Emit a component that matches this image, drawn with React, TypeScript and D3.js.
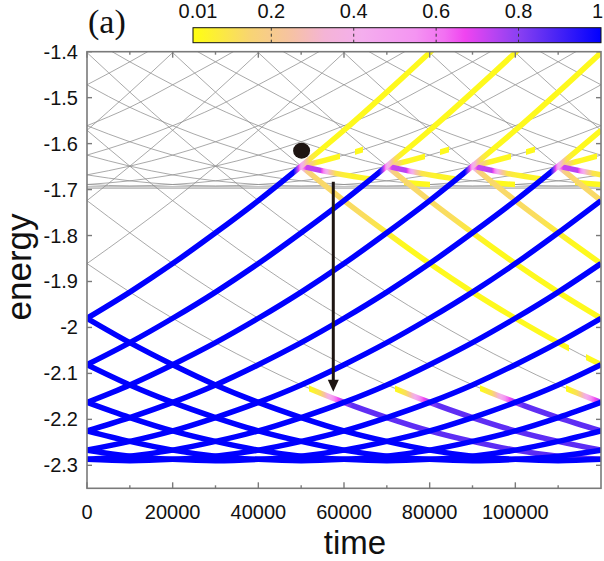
import React from 'react'
import * as d3 from 'd3'

const W = 604
const H = 561

// energy of the lower band at |q| = 0, 0.5, 1, ... (read at the grid crossings, one step per 10000)
const bandA = [-2.29, -2.287, -2.28, -2.267, -2.248, -2.225, -2.196, -2.163, -2.125, -2.081, -2.033,
  -1.98, -1.923, -1.861, -1.794, -1.724, -1.649, -1.571, -1.488, -1.402, -1.313, -1.22]
// energy of the pair band at |K| = 0, 0.5, 1, ...
const bandB = [-1.692, -1.689, -1.681, -1.668, -1.649, -1.625, -1.596, -1.561, -1.521, -1.472, -1.422, -1.368, -1.31]
const flatLevels = [-1.694, -1.697]
const gridTimes = [0, 10000, 20000, 30000, 40000, 50000, 60000, 70000, 80000, 90000, 100000, 110000, 120000]

const levelsA = d3.range(-16, 10)
const levelsB = d3.range(-12, 6)
const filledA = [-6, -5, -4, -3, -2, -1, 0, 1]

// each crossing: time, and the levels that meet there
const crossings = [
  { time: 50000, rising: 5, fallingA: -11, risingB: -1, fallingB: -5, lower: -7 },
  { time: 70000, rising: 4, fallingA: -12, risingB: -2, fallingB: -6, lower: -8 },
  { time: 90000, rising: 3, fallingA: -13, risingB: -3, fallingB: -7, lower: -9 },
  { time: 110000, rising: 2, fallingA: -14, risingB: -4, fallingB: -8, lower: -10 },
]

// population along each line, [time relative to the crossing, population]
const risingPop = [[-150000, 1], [-1800, 1], [-700, 0.72], [0, 0.45], [800, 0.3], [2000, 0.1], [4000, 0.03], [150000, 0.02]]
const fallingAPop = [[0, 0.45], [1200, 0.2], [3000, 0.14], [15000, 0.12], [24000, 0.03], [62500, 0.03], [62501, 0],
  [66500, 0], [66501, 0.03], [70000, 0.03]]
const risingBPop = [[0, 0.5], [1500, 0.25], [4000, 0.04], [9000, 0.03], [9001, 0], [12500, 0], [12501, 0.03], [14500, 0.03]]
const fallingBPop = [[0, 0.5], [1200, 0.72], [4500, 0.74], [6500, 0.3], [8000, 0.1], [11000, 0.05], [16000, 0.04],
  [16001, 0], [24000, 0], [24001, 0.03], [30000, 0.03]]
const lowerPop = [[1800, 0], [1801, 0.015], [4500, 0.12], [6500, 0.4], [8000, 0.6], [9500, 0.75], [12000, 0.86], [150000, 0.88]]

const colorStops: [number, string][] = [
  [0.01, '#ffff10'], [0.15, '#f8d474'], [0.25, '#f6c2a4'], [0.33, '#f4b4d6'], [0.42, '#f4aeee'],
  [0.55, '#f494f2'], [0.62, '#f270f2'], [0.67, '#f044f0'], [0.74, '#b844f2'], [0.8, '#8a40f2'],
  [0.88, '#5228f4'], [1, '#0000ff'],
]

const timeTicks = [0, 20000, 40000, 60000, 80000, 100000]
const minorTimeTicks = [10000, 30000, 50000, 70000, 90000, 110000]
const energyTicks = [-1.4, -1.5, -1.6, -1.7, -1.8, -1.9, -2, -2.1, -2.2, -2.3]
const colorTicks = [0.01, 0.2, 0.4, 0.6, 0.8, 1]

const dot = { time: 50100, energy: -1.6154 }
const arrow = { time: 57500, from: -1.683, to: -2.14 }

const FONT = '"Liberation Sans", Arial, sans-serif'

function popAt(stops: number[][], t: number) {
  if (t < stops[0][0] || t > stops[stops.length - 1][0]) return 0
  for (let i = 1; i < stops.length; i++) {
    if (t <= stops[i][0]) {
      const [t0, p0] = stops[i - 1]
      const [t1, p1] = stops[i]
      return t1 === t0 ? p1 : p0 + ((p1 - p0) * (t - t0)) / (t1 - t0)
    }
  }
  return 0
}

export default function App() {
  const x = d3.scaleLinear().domain([0, 120000]).range([87, 601])
  const y = d3.scaleLinear().domain([-2.35, -1.4]).range([488.3, 51.7])
  const cb = d3.scaleLinear().domain([0.01, 1]).range([193, 601])
  const color = d3.scaleLinear<string>()
    .domain(colorStops.map(d => d[0]))
    .range(colorStops.map(d => d[1]))
    .clamp(true)

  const line = d3.line<[number, number | undefined]>()
    .defined(d => d[1] !== undefined)
    .x(d => x(d[0]))
    .y(d => y(d[1] as number))
    .curve(d3.curveMonotoneX)

  const levelPath = (band: number[], n: number) =>
    line(gridTimes.map((t, k) => [t, band[Math.abs(2 * n + 1 + k)]] as [number, number | undefined])) || ''

  const shift = (stops: number[][], t0: number) => stops.map(([t, p]) => [t + t0, p])

  const gradStops = (stops: number[][]) => {
    const times = new Set<number>([0, 120000])
    const add = (t: number) => { if (t >= 0 && t <= 120000) times.add(t) }
    add(stops[0][0] - 1)
    add(stops[stops.length - 1][0] + 1)
    stops.forEach(([t], i) => {
      add(t)
      if (i > 0) {
        const t0 = stops[i - 1][0]
        for (let j = 1; j < 6; j++) add(t0 + ((t - t0) * j) / 6)
      }
    })
    return Array.from(times).sort((a, b) => a - b).map(t => {
      const p = popAt(stops, t)
      return { offset: t / 120000, color: color(Math.max(p, 0.01)), opacity: p >= 0.01 ? 1 : 0 }
    })
  }

  type Colored = { band: number[], n: number, stops: number[][] }
  const faint: Colored[] = []
  const lower: Colored[] = []
  const rising: Colored[] = []
  crossings.forEach(c => {
    faint.push({ band: bandA, n: c.fallingA, stops: shift(fallingAPop, c.time) })
    faint.push({ band: bandB, n: c.risingB, stops: shift(risingBPop, c.time) })
    faint.push({ band: bandB, n: c.fallingB, stops: shift(fallingBPop, c.time) })
    lower.push({ band: bandA, n: c.lower, stops: shift(lowerPop, c.time) })
    rising.push({ band: bandA, n: c.rising, stops: shift(risingPop, c.time) })
  })
  const filled: Colored[] = filledA.map(n => ({ band: bandA, n, stops: [[-1, 1], [120001, 1]] }))
  const colored = [...faint, ...lower, ...filled, ...rising]

  const left = 87
  const right = 601
  const top = 51.7
  const bottom = 488.3
  const axisColor = '#7a7a7a'

  return (
    <svg width={W} height={H} style={{ position: 'absolute', left: 0, top: 0, background: '#fff' }} fontFamily={FONT}>
      <defs>
        <clipPath id="plot">
          <rect x={left} y={top} width={right - left} height={bottom - top} />
        </clipPath>
        <linearGradient id="cbar" gradientUnits="userSpaceOnUse" x1={cb(0.01)} x2={cb(1)} y1={0} y2={0}>
          {colorStops.map(([p, c]) => (
            <stop key={p} offset={(p - 0.01) / 0.99} stopColor={c} />
          ))}
        </linearGradient>
        {colored.map((c, i) => (
          <linearGradient key={i} id={`pop${i}`} gradientUnits="userSpaceOnUse" x1={x(0)} x2={x(120000)} y1={0} y2={0}>
            {gradStops(c.stops).map((s, j) => (
              <stop key={j} offset={s.offset} stopColor={s.color} stopOpacity={s.opacity} />
            ))}
          </linearGradient>
        ))}
      </defs>

      <g clipPath="url(#plot)" fill="none">
        {levelsA.map(n => (
          <path key={`a${n}`} d={levelPath(bandA, n)} stroke="#8c8c8c" strokeWidth={0.75} />
        ))}
        {levelsB.map(n => (
          <path key={`b${n}`} d={levelPath(bandB, n)} stroke="#8c8c8c" strokeWidth={0.75} />
        ))}
        {flatLevels.map(e => (
          <line key={e} x1={left} x2={right} y1={y(e)} y2={y(e)} stroke="#8c8c8c" strokeWidth={0.75} />
        ))}
        {colored.map((c, i) => (
          <path key={`c${i}`} d={levelPath(c.band, c.n)} stroke={`url(#pop${i})`} strokeWidth={5.5} />
        ))}
      </g>

      {/* annotations */}
      <ellipse cx={x(dot.time)} cy={y(dot.energy)} rx={8.5} ry={8} fill="#1e1512" />
      <line x1={x(arrow.time)} x2={x(arrow.time)} y1={y(arrow.from)} y2={y(arrow.to) - 11} stroke="#1e1512" strokeWidth={3} />
      <path
        d={`M${x(arrow.time)},${y(arrow.to)} l-5.5,-12 l11,0 Z`}
        fill="#1e1512"
      />

      {/* frame and ticks */}
      <rect x={left} y={top} width={right - left} height={bottom - top} fill="none" stroke={axisColor} strokeWidth={1.6} />
      {timeTicks.map(t => (
        <g key={t} stroke={axisColor} strokeWidth={1.4}>
          <line x1={x(t)} x2={x(t)} y1={bottom} y2={bottom - 6} />
          <line x1={x(t)} x2={x(t)} y1={top} y2={top + 6} />
        </g>
      ))}
      {minorTimeTicks.map(t => (
        <g key={t} stroke={axisColor} strokeWidth={1.4}>
          <line x1={x(t)} x2={x(t)} y1={bottom} y2={bottom - 3} />
          <line x1={x(t)} x2={x(t)} y1={top} y2={top + 3} />
        </g>
      ))}
      {energyTicks.map(e => (
        <g key={e} stroke={axisColor} strokeWidth={1.4}>
          <line x1={left} x2={left + 5} y1={y(e)} y2={y(e)} />
          <line x1={right} x2={right - 5} y1={y(e)} y2={y(e)} />
        </g>
      ))}

      {timeTicks.map(t => (
        <text key={t} x={x(t)} y={519} textAnchor="middle" fontSize={20} fill="#111">{t}</text>
      ))}
      {energyTicks.map(e => (
        <text key={e} x={78} y={y(e)} dy="0.35em" textAnchor="end" fontSize={20} fill="#111">{String(e)}</text>
      ))}

      <text x={355} y={554} textAnchor="middle" fontSize={33} fill="#111">time</text>
      <text transform={`translate(31,267) rotate(-90)`} textAnchor="middle" fontSize={35} fill="#111">energy</text>
      <text x={88} y={33} fontSize={34} fontFamily='"Liberation Serif", "Times New Roman", serif' fill="#111">(a)</text>

      {/* colour bar */}
      <rect x={cb(0.01)} y={27.7} width={cb(1) - cb(0.01)} height={15} fill="url(#cbar)" stroke="#111" strokeWidth={1} />
      {colorTicks.slice(1, -1).map(v => (
        <line key={v} x1={cb(v)} x2={cb(v)} y1={27.7} y2={42.7} stroke="#333" strokeWidth={1} strokeDasharray="3,3" />
      ))}
      {colorTicks.map((v, i) => (
        <text
          key={v}
          x={i === 0 ? cb(v) + 5 : i === colorTicks.length - 1 ? 603 : cb(v)}
          y={17.5}
          textAnchor={i === colorTicks.length - 1 ? 'end' : 'middle'}
          fontSize={20}
          fill="#111"
        >
          {String(v)}
        </text>
      ))}
    </svg>
  )
}
